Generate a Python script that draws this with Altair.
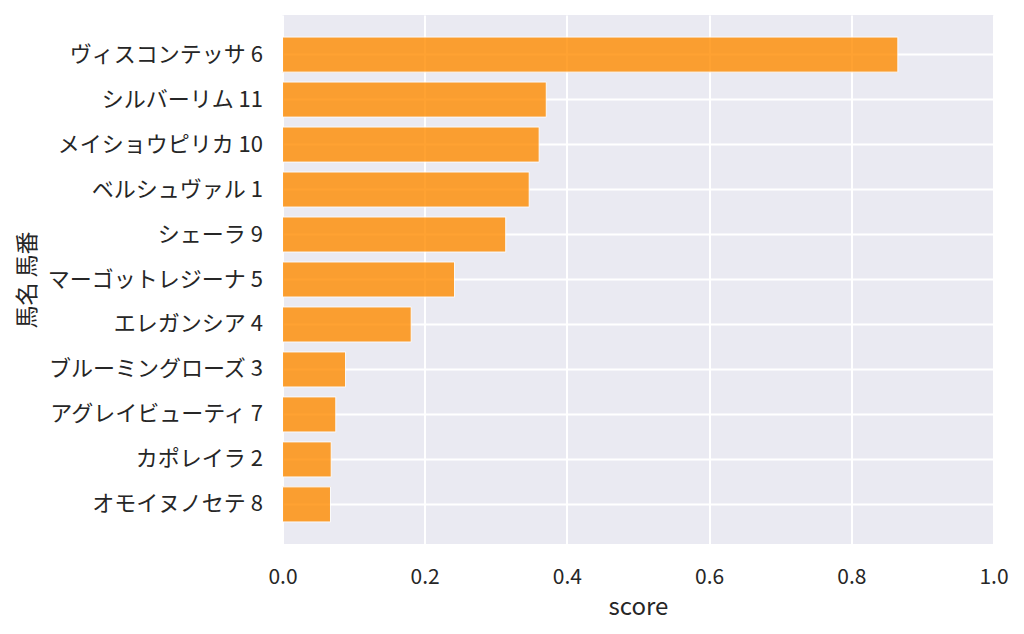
import altair as alt
import pandas as pd

horses = ["ヴィスコンテッサ 6", "シルバーリム 11", "メイショウピリカ 10", "ベルシュヴァル 1",
          "シェーラ 9", "マーゴットレジーナ 5", "エレガンシア 4", "ブルーミングローズ 3",
          "アグレイビューティ 7", "カポレイラ 2", "オモイヌノセテ 8"]
scores = [0.8655, 0.371, 0.361, 0.347, 0.314, 0.242, 0.181, 0.0887, 0.075, 0.0685, 0.0675]
x_ticks = [0.0, 0.2, 0.4, 0.6, 0.8, 1.0]

df = pd.DataFrame({"horse": horses, "score": scores})

FONT = "Noto Sans CJK JP"
TXT = "#262626"
W, H = 711, 529

chart = alt.Chart(df).mark_bar(
    color="#FF8C00", opacity=0.8, stroke="white", strokeWidth=1
).encode(
    x=alt.X("score:Q",
            scale=alt.Scale(domain=[0, 1], nice=False, zero=True),
            axis=alt.Axis(values=x_ticks, format=".1f", title="score",
                          grid=True, gridColor="white", gridWidth=2,
                          domain=False, ticks=False, labelPadding=22, labelFlush=False,
                          labelFontSize=21, titleFontSize=24,
                          titleY=63, titleBaseline="middle",
                          labelColor=TXT, titleColor=TXT,
                          labelFont=FONT, titleFont=FONT, titleFontWeight="normal")),
    y=alt.Y("horse:N", sort=horses,
            scale=alt.Scale(paddingInner=0.22, paddingOuter=0.49),
            axis=alt.Axis(title="馬名 馬番", grid=True, gridColor="white", gridWidth=2,
                          bandPosition=0.5, domain=False, ticks=False,
                          labelPadding=20, labelLimit=400,
                          labelFontSize=22, titleFontSize=23,
                          titleX=-255, titleY=H / 2, titleAngle=270,
                          titleAlign="center", titleBaseline="middle",
                          labelColor=TXT, titleColor=TXT,
                          labelFont=FONT, titleFont=FONT, titleFontWeight="normal")),
).properties(
    width=W, height=H,
    background="white",
    autosize=alt.AutoSizeParams(type="none"),
    padding={"left": 274.5, "top": 7, "right": 22, "bottom": 78},
).configure_view(
    fill="#EAEAF2", stroke=None
)

chart.save("out.html", embed_options={"renderer": "svg", "actions": False})
